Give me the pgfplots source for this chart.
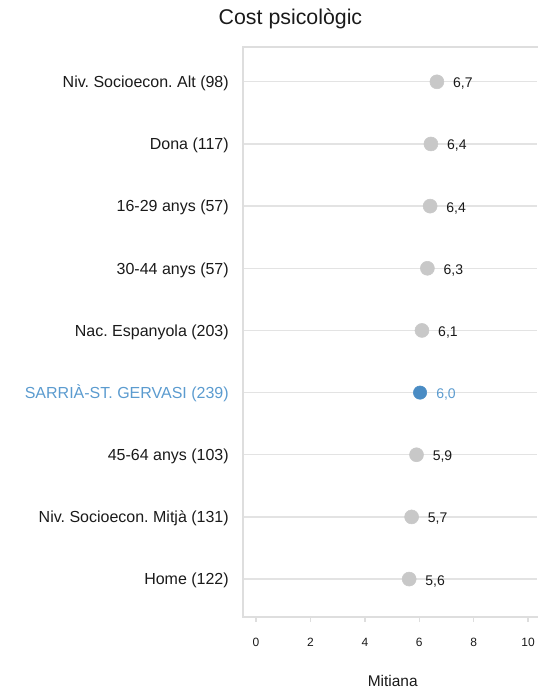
\documentclass[border=0pt]{standalone}
\usepackage{pgfplots}
\pgfplotsset{compat=1.18}
\usepackage{pgfplotstable}
\usepackage{fontspec}
\setmainfont{Liberation Sans}
\frenchspacing

\definecolor{dotgray}{HTML}{C8C8C8}
\definecolor{dotblue}{HTML}{4A8CC4}
\definecolor{lblblue}{HTML}{5B9BCF}
\definecolor{gridgray}{HTML}{E3E3E3}
\definecolor{framegray}{HTML}{DEDEDE}
\definecolor{txt}{HTML}{1A1A1A}

% mitjanes (posicio 3 = districte, a part)
\pgfplotstableread{
x    y  lbl
5.63 0  5,6
5.72 1  5,7
5.90 2  5,9
6.10 4  6,1
6.30 5  6,3
6.40 6  6,4
6.43 7  6,4
6.65 8  6,7
}\grisos
\pgfplotstableread{
x    y  lbl
6.03 3  6,0
}\districte

\begin{document}
\begin{tikzpicture}
\useasboundingbox (-182.25pt,-53.25pt) rectangle (220.5pt,462.75pt);
\begin{axis}[
    at={(0,0)}, anchor=south west,
    scale only axis,
    width=220.5pt, height=427.5pt,
    xmin=-0.48, xmax=10.33,
    ymin=-0.61, ymax=8.56,
    clip=false,
    axis line style={draw=none},
    xtick={0,2,...,10},
    ytick={0,...,8},
    xtick pos=bottom,
    yticklabels={Home (122), Niv. Socioecon. Mitjà (131), 45-64 anys (103),
        \textcolor{lblblue}{SARRIÀ-ST. GERVASI (239)}, Nac. Espanyola (203),
        30-44 anys (57), 16-29 anys (57), Dona (117), Niv. Socioecon. Alt (98)},
    ymajorgrids,
    grid style={gridgray, line width=1pt},
    tick align=outside,
    major tick length=3.75pt,
    x tick style={framegray, line width=1pt},
    y tick style={draw=none},
    /pgf/number format/assume math mode=true,
    xticklabel style={font=\fontsize{9}{10}\selectfont, text=txt,
        anchor=base, inner sep=0pt, yshift=-18pt},
    yticklabel style={font=\fontsize{12}{14}\selectfont, text=txt,
        anchor=base east, inner sep=0pt, xshift=-6.75pt, yshift=-4.3pt},
    nodes near coords,
    point meta=explicit symbolic,
    nodes near coords style={font=\fontsize{10.5}{12}\selectfont,
        anchor=base west, inner sep=0pt, xshift=12pt, yshift=-4.5pt},
]
\draw[framegray, line width=1.25pt] (rel axis cs:1.05,1) -- (rel axis cs:0,1)
    -- (rel axis cs:0,0) -- (rel axis cs:1.05,0);
\addplot[color=dotgray, only marks, mark=*, mark size=5.25pt,
    mark options={fill=dotgray, draw=dotgray},
    nodes near coords style={text=txt}]
    table[x=x, y=y, meta=lbl] {\grisos};
\addplot[color=dotblue, only marks, mark=*, mark size=5pt,
    mark options={fill=dotblue, draw=dotblue},
    nodes near coords style={text=lblblue}]
    table[x=x, y=y, meta=lbl] {\districte};
\end{axis}
\node[anchor=base, font=\fontsize{16}{18}\selectfont, text=txt] at (35.6pt,444pt) {Cost psicològic};
\node[anchor=base, font=\fontsize{11.6}{13}\selectfont, text=txt] at (112.3pt,-52.1pt) {Mitiana};
\end{tikzpicture}
\end{document}
